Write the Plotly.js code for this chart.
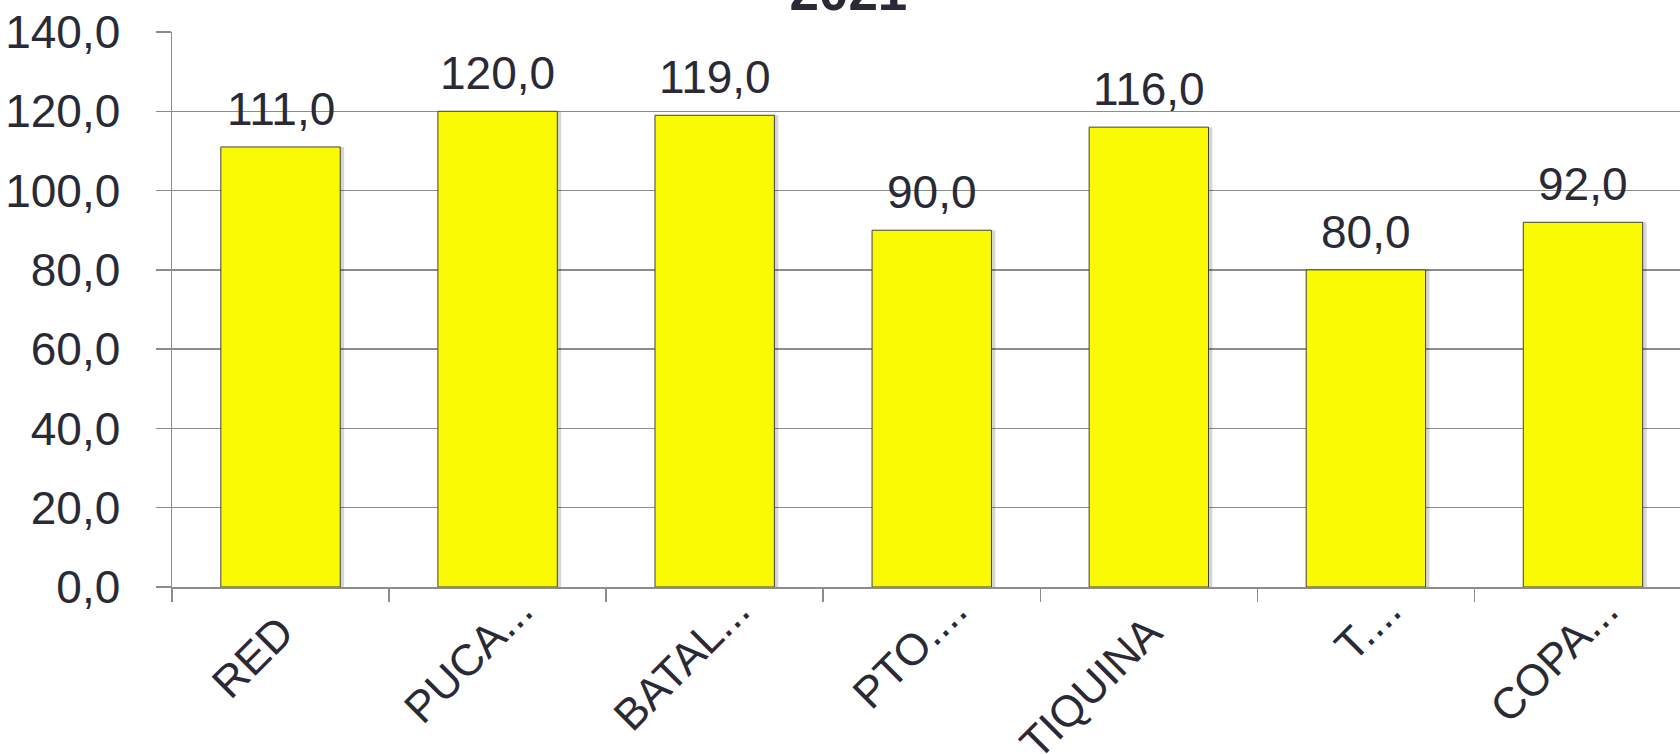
<!DOCTYPE html>
<html>
<head>
<meta charset="utf-8">
<script src="https://cdn.plot.ly/plotly-3.0.1.min.js"></script>
<style>html,body{margin:0;padding:0;background:#fff;}#chart{width:1680px;height:754px;}</style>
</head>
<body>
<div id="chart"></div>
<script>
const categories = ["RED", "PUCA...", "BATAL...", "PTO....", "TIQUINA", "T....", "COPA..."];
const values = [111, 120, 119, 90, 116, 80, 92];
const yTickVals = [0, 20, 40, 60, 80, 100, 120, 140];
const titleText = "2021";

const FONT = "Liberation Sans, Arial, sans-serif";
const TXT = "#2a2a36";

// Excel lets the truncation dots hang past the anchor; emulate by padding
// untruncated labels with a trailing invisible space of equal size.
const PAD = "\u2002\u2009";
const tickText = categories.map(c => c.endsWith("...") ? c : c + PAD);

const BAR_W = 0.55;
const shadow = {
  type: "bar",
  x: categories,
  y: values,
  width: BAR_W,
  offset: -BAR_W / 2 + 0.018,
  marker: {color: "rgba(0,0,0,0.16)", line: {width: 0}},
  hoverinfo: "skip"
};
const trace = {
  type: "bar",
  x: categories,
  y: values,
  width: BAR_W,
  offset: -BAR_W / 2,
  marker: {color: "#FAFA05", line: {color: "#404040", width: 1}},
  hoverinfo: "skip"
};

const annotations = categories.map((c, i) => ({
  x: c, y: values[i], xref: "x", yref: "y",
  text: values[i].toFixed(1).replace(".", ","),
  showarrow: false, yanchor: "bottom", yshift: 10,
  font: {family: FONT, size: 46, color: TXT}
}));

const layout = {
  width: 1680, height: 754,
  margin: {l: 172, r: 0, t: 31.5, b: 167, pad: 0},
  paper_bgcolor: "#ffffff", plot_bgcolor: "#ffffff",
  separators: ",.",
  showlegend: false,
  barmode: "overlay",
  title: {
    text: "<b>" + titleText + "</b>",
    font: {family: FONT, size: 53, color: TXT},
    xref: "container", yref: "container",
    x: 0.505, xanchor: "center", y: 0.987, yanchor: "bottom"
  },
  xaxis: {
    type: "category",
    range: [-0.5, 6.447],
    tickmode: "array",
    tickvals: categories,
    ticktext: tickText,
    tickangle: -45,
    ticks: "outside", ticklen: 13, tickwidth: 1.5, tickcolor: "#8c8c8c",
    tickson: "boundaries",
    ticklabelshift: 22,
    ticklabelstandoff: -22,
    showline: true, linecolor: "#8c8c8c", linewidth: 2,
    showgrid: false,
    tickfont: {family: FONT, size: 44, color: TXT},
    fixedrange: true
  },
  yaxis: {
    range: [0, 140],
    tickvals: yTickVals,
    tickformat: ".1f",
    ticks: "outside", ticklen: 15, tickwidth: 1.5, tickcolor: "#8c8c8c",
    showline: true, linecolor: "#8c8c8c", linewidth: 1.5,
    showgrid: true, gridcolor: "#8c8c8c", gridwidth: 1.5,
    zeroline: false,
    ticklabelstandoff: 26,
    tickfont: {family: FONT, size: 46, color: TXT},
    fixedrange: true
  },
  annotations: annotations
};

Plotly.newPlot("chart", [shadow, trace], layout, {displayModeBar: false, staticPlot: true});
</script>
</body>
</html>
